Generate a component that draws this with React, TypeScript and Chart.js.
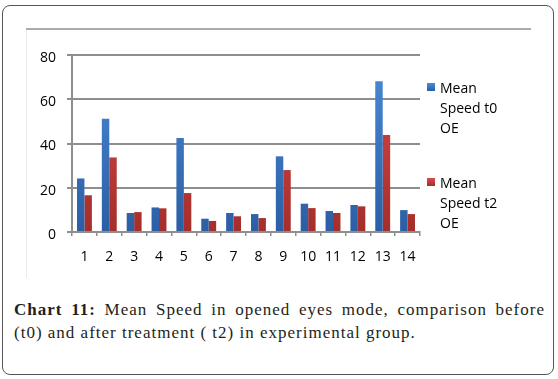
import React, { useEffect, useRef } from "react";
import { Chart, registerables } from "chart.js";

Chart.register(...registerables);

const categories = ["1", "2", "3", "4", "5", "6", "7", "8", "9", "10", "11", "12", "13", "14"];
const seriesT0 = [24.2, 51.2, 8.6, 11.1, 42.5, 6.0, 8.6, 8.1, 34.2, 12.8, 9.5, 12.2, 68.1, 9.9];
const seriesT2 = [16.6, 33.7, 9.0, 10.7, 17.6, 5.0, 7.1, 6.3, 28.0, 10.8, 8.6, 11.6, 43.8, 8.1];
const seriesLabels = [["Mean", "Speed t0", "OE"], ["Mean", "Speed t2", "OE"]];
const yTicks = [0, 20, 40, 60, 80];

const BLUE_TOP = "#4b8bd9";
const BLUE_BOTTOM = "#2b5ea4";
const RED_TOP = "#dc4b47";
const RED_BOTTOM = "#a42e2b";
const GRID = "#8e8e8e";
const FONT = "'Open Sans', sans-serif";

function makeGradient(top: string, bottom: string) {
  return (ctx: any) => {
    const chart = ctx.chart;
    const area = chart.chartArea;
    if (!area) return top;
    const g = chart.ctx.createLinearGradient(0, area.top, 0, area.bottom);
    g.addColorStop(0, top);
    g.addColorStop(1, bottom);
    return g;
  };
}

export default function App() {
  const canvasRef = useRef<HTMLCanvasElement | null>(null);

  useEffect(() => {
    if (!canvasRef.current) return;
    const chart = new Chart(canvasRef.current, {
      type: "bar",
      data: {
        labels: categories,
        datasets: [
          {
            label: seriesLabels[0].join(" "),
            data: seriesT0,
            backgroundColor: makeGradient(BLUE_TOP, BLUE_BOTTOM),
            categoryPercentage: 0.6,
            barPercentage: 1.0,
          },
          {
            label: seriesLabels[1].join(" "),
            data: seriesT2,
            backgroundColor: makeGradient(RED_TOP, RED_BOTTOM),
            categoryPercentage: 0.6,
            barPercentage: 1.0,
          },
        ],
      },
      options: {
        animation: false,
        responsive: false,
        maintainAspectRatio: false,
        layout: { padding: { top: 25, right: 110, left: 0, bottom: 0 } },
        plugins: {
          legend: { display: false },
          tooltip: { enabled: false },
          title: { display: false },
        },
        scales: {
          x: {
            offset: true,
            grid: {
              display: true,
              offset: true,
              drawOnChartArea: false,
              drawTicks: true,
              tickLength: 4,
              color: GRID,
              lineWidth: 1.5,
            },
            border: { display: true, color: GRID, width: 2 },
            ticks: {
              color: "#000",
              font: { family: FONT, size: 14 },
              padding: 13,
              maxRotation: 0,
              autoSkip: false,
            },
            afterFit: (scale: any) => {
              scale.height = 46;
            },
          },
          y: {
            min: 0,
            max: 80,
            afterBuildTicks: (scale: any) => {
              scale.ticks = yTicks.map((v) => ({ value: v }));
            },
            grid: {
              color: GRID,
              lineWidth: 2,
              drawTicks: true,
              tickLength: 5,
            },
            border: { display: true, color: GRID, width: 2 },
            ticks: {
              color: "#000",
              font: { family: FONT, size: 14 },
              padding: 11,
              labelOffset: 3,
            },
            afterFit: (scale: any) => {
              scale.width = 46;
            },
          },
        },
      },
    });
    return () => chart.destroy();
  }, []);

  const legendColors = [
    `linear-gradient(${BLUE_TOP}, ${BLUE_BOTTOM})`,
    `linear-gradient(${RED_TOP}, ${RED_BOTTOM})`,
  ];
  const legendTops = [78, 173];

  return (
    <div
      style={{
        position: "absolute",
        left: 0,
        top: 0,
        width: 558,
        height: 379,
        background: "#fff",
        overflow: "hidden",
      }}
    >
      <div
        style={{
          position: "absolute",
          left: 2,
          top: 5,
          width: 550,
          height: 368,
          border: "1px solid #555",
          borderRadius: 8,
        }}
      />
      <div style={{ position: "absolute", left: 26, top: 28, width: 505, height: 2, background: "#ababab" }} />
      <div style={{ position: "absolute", left: 26, top: 30, width: 1, height: 248, background: "#ececec" }} />
      <canvas
        ref={canvasRef}
        width={504}
        height={248}
        style={{ position: "absolute", left: 26, top: 30, width: 504, height: 248 }}
      />
      {seriesLabels.map((lines, i) => (
        <div key={i}>
          <div
            style={{
              position: "absolute",
              left: 427,
              top: legendTops[i] + 5,
              width: 8,
              height: 8,
              background: legendColors[i],
            }}
          />
          <div
            style={{
              position: "absolute",
              left: 440,
              top: legendTops[i],
              fontFamily: FONT,
              fontSize: 14,
              lineHeight: "20px",
              color: "#000",
              whiteSpace: "nowrap",
            }}
          >
            {lines.map((l, j) => (
              <div key={j}>{l}</div>
            ))}
          </div>
        </div>
      ))}
      <div
        style={{
          position: "absolute",
          left: 14,
          top: 298,
          width: 531,
          fontFamily: "'Liberation Serif', serif",
          fontSize: 17,
          letterSpacing: "1px",
          lineHeight: "23px",
          textAlign: "justify",
          color: "#231f20",
        }}
      >
        <b>Chart 11:</b> Mean Speed in opened eyes mode, comparison before (t0) and after treatment ( t2) in experimental group.
      </div>
    </div>
  );
}
